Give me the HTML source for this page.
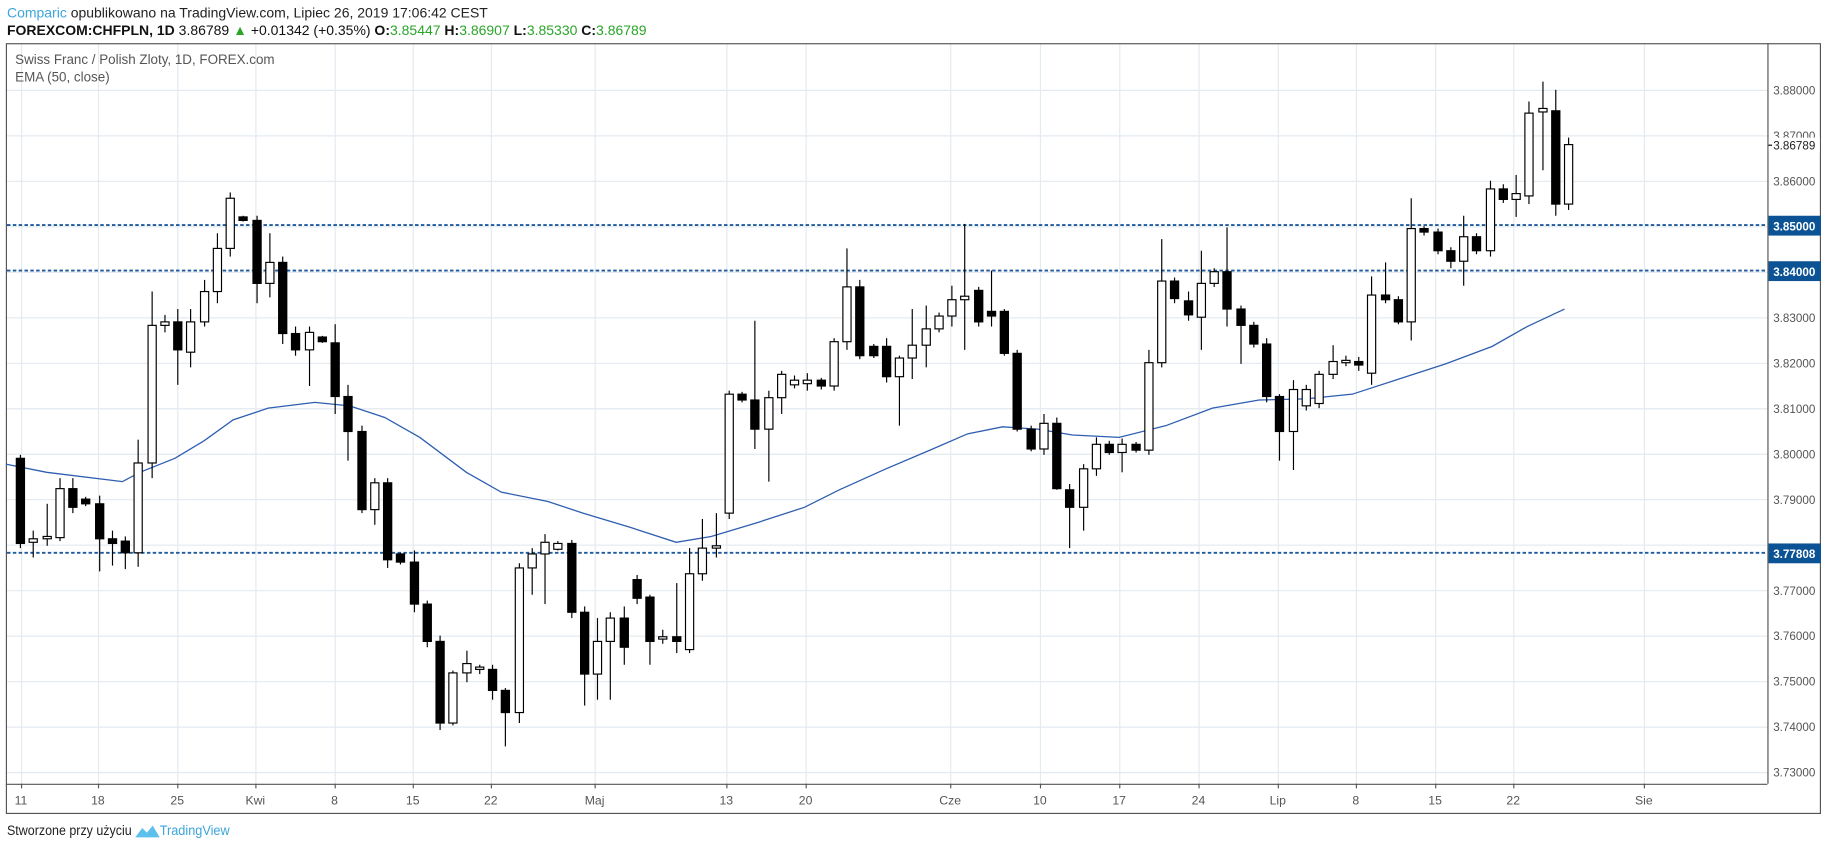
<!DOCTYPE html>
<html><head><meta charset="utf-8"><style>
html,body{margin:0;padding:0;background:#fff;}
svg{display:block;font-family:"Liberation Sans",sans-serif;}
</style></head><body>
<svg id="s" width="1828" height="849" viewBox="0 0 1568 728" preserveAspectRatio="none" xmlns="http://www.w3.org/2000/svg">
<rect width="1568" height="728" fill="#fff"/>
<g id="grid" stroke="#e3eaf1" stroke-width="1"></g>
<rect x="5.5" y="37.5" width="1556" height="660" fill="none" stroke="#555" stroke-width="1"/>
<line x1="1516.5" y1="37" x2="1516.5" y2="672" stroke="#555"/>
<line x1="5" y1="672.5" x2="1516" y2="672.5" stroke="#555"/>
<g id="hl"></g>
<polyline id="ema" fill="none" stroke="#2e5eb0" stroke-width="1.1"/>
<g id="c"></g>
<g font-size="10" fill="#555">
<text x="1521" y="81">3.88000</text>
<text x="1521" y="120">3.87000</text>
<text x="1521" y="159">3.86000</text>
<text x="1521" y="315">3.82000</text>
<text x="1521" y="276">3.83000</text>
<text x="1521" y="354">3.81000</text>
<text x="1521" y="393">3.80000</text>
<text x="1521" y="432">3.79000</text>
<text x="1521" y="510">3.77000</text>
<text x="1521" y="549">3.76000</text>
<text x="1521" y="588">3.75000</text>
<text x="1521" y="627">3.74000</text>
<text x="1521" y="666">3.73000</text>
</g>
<rect x="1517" y="118" width="44" height="13" fill="#fff"/>
<line x1="1517" y1="124.5" x2="1520" y2="124.5" stroke="#000"/>
<text x="1521" y="128" font-size="10" fill="#222">3.86789</text>
<rect x="1517" y="185" width="45" height="17" fill="#0b5394"/>
<text x="1521" y="197.5" font-size="10" fill="#fff" font-weight="bold">3.85000</text>
<rect x="1517" y="224" width="45" height="17" fill="#0b5394"/>
<text x="1521" y="236.5" font-size="10" fill="#fff" font-weight="bold">3.84000</text>
<rect x="1517" y="466" width="45" height="17" fill="#0b5394"/>
<text x="1521" y="478.5" font-size="10" fill="#fff" font-weight="bold">3.77808</text>
<g font-size="10.5" fill="#555" text-anchor="middle">
<text x="18" y="690">11</text><text x="84" y="690">18</text><text x="152" y="690">25</text>
<text x="219" y="690">Kwi</text><text x="287" y="690">8</text><text x="354" y="690">15</text>
<text x="421" y="690">22</text><text x="510" y="690">Maj</text><text x="623" y="690">13</text>
<text x="691" y="690">20</text><text x="815" y="690">Cze</text><text x="892" y="690">10</text>
<text x="960" y="690">17</text><text x="1028" y="690">24</text><text x="1096" y="690">Lip</text>
<text x="1163" y="690">8</text><text x="1231" y="690">15</text><text x="1298" y="690">22</text>
<text x="1410" y="690">Sie</text>
</g>
<text x="13" y="55" font-size="11.5" fill="#555">Swiss Franc / Polish Zloty, 1D, FOREX.com</text>
<text x="13" y="70" font-size="11.5" fill="#555">EMA (50, close)</text>
<text x="6" y="15" font-size="12"><tspan fill="#3ca5dc">Comparic</tspan><tspan fill="#222"> opublikowano na TradingView.com, Lipiec 26, 2019 17:06:42 CEST</tspan></text>
<text x="6" y="30" font-size="12" fill="#111"><tspan font-weight="bold">FOREXCOM:CHFPLN, 1D</tspan> 3.86789 <tspan fill="#2aa52a">▲</tspan> +0.01342 (+0.35%) <tspan font-weight="bold">O:</tspan><tspan fill="#2aa52a">3.85447</tspan> <tspan font-weight="bold">H:</tspan><tspan fill="#2aa52a">3.86907</tspan> <tspan font-weight="bold">L:</tspan><tspan fill="#2aa52a">3.85330</tspan> <tspan font-weight="bold">C:</tspan><tspan fill="#2aa52a">3.86789</tspan></text>
<text x="6" y="716" font-size="11.5" fill="#222" textLength="107" lengthAdjust="spacingAndGlyphs">Stworzone przy użyciu</text>
<path d="M116 718 l6 -8 l4 4 l5 -6 l6 10 z" fill="#5bc0eb"/>
<text x="137" y="716" font-size="11.5" fill="#3ca5dc" textLength="60" lengthAdjust="spacingAndGlyphs">TradingView</text>
</svg>
<script>
var ns="http://www.w3.org/2000/svg";
function el(p,t,a){var e=document.createElementNS(ns,t);for(var k in a)e.setAttribute(k,a[k]);p.appendChild(e);return e;}
var g=document.getElementById('grid');
[77,116,155,194,233,272,311,350,389,428,467,506,545,584,623,662].forEach(function(y){el(g,'line',{x1:6,x2:1516,y1:y+.5,y2:y+.5});});
[18,84,152,219,287,354,421,510,623,691,815,892,960,1028,1096,1163,1231,1298,1410].forEach(function(x){el(g,'line',{x1:x+.5,x2:x+.5,y1:38,y2:672});
el(document.getElementById('s'),'line',{x1:x+.5,x2:x+.5,y1:672,y2:676,stroke:'#555'});});
var hl=document.getElementById('hl');
[193,232,474].forEach(function(y){el(hl,'line',{x1:6,x2:1516,y1:y,y2:y,stroke:'#1f5a9a','stroke-width':1.6,'stroke-dasharray':'3,2'});});
var ema=[[5,398],[40,405],[105,413],[120,405],[150,393],[175,378],[200,360],[230,350],[270,345],[300,348],[330,358],[360,375],[400,405],[430,422],[470,430],[500,440],[540,452],[580,465],[610,460],[650,448],[690,435],[720,420],[760,402],[800,385],[830,372],[860,366],[890,368],[920,373],[960,375],[1000,365],[1040,350],[1080,343],[1120,342],[1160,338],[1200,325],[1240,312],[1280,297],[1310,280],[1342,265]];
document.getElementById('ema').setAttribute('points',ema.map(function(p){return p.join(',')}).join(' '));
var d=[[393,466,390,470],[465,462,455,478],[462,460,432,468],[461,419,410,464],[419,435,410,440],[428,432,426,434],[432,462,425,490],[462,466,455,485],[464,474,460,488],[474,397,377,486],
[397,279,250,410],[279,276,270,285],[276,300,265,330],[302,276,265,315],[276,250,240,280],[250,213,200,260],[213,170,165,220],[186,189,185,190],[189,243,185,260],[243,225,200,255],
[225,286,220,295],[286,300,280,305],[300,285,280,331],[289,293,288,294],[294,340,278,355],[340,370,330,395],[370,437,365,440],[437,414,410,450],[414,480,410,487],[475,482,474,484],
[482,518,472,525],[518,550,515,555],[550,620,545,626],[620,577,575,622],[577,569,558,585],[574,572,570,578],[574,592,570,600],[592,611,590,640],[611,487,483,620],[487,475,470,510],
[475,465,458,518],[471,466,464,472],[466,525,463,530],[525,578,520,605],[578,550,530,600],[550,530,525,600],[530,555,520,570],[497,513,493,518],[512,550,510,570],[548,546,540,552],
[546,550,500,560],[557,492,470,560],[492,470,445,498],[470,468,440,478],[440,338,335,445],[338,343,336,345],[343,368,275,385],[368,341,335,413],[341,321,318,355],[330,326,322,333],
[329,326,320,335],[326,331,324,334],[331,293,290,335],[293,246,213,300],[246,305,240,308],[297,305,295,307],[297,323,290,328],[323,307,305,365],[307,296,265,325],[296,282,262,315],
[282,271,268,285],[271,257,245,280],[257,254,192,300],[249,276,246,280],[267,271,232,280],[267,303,265,305],[303,368,300,370],[368,385,365,387],[385,363,355,390],[363,419,358,420],
[420,435,415,470],[435,402,398,455],[402,381,375,408],[381,388,378,390],[388,381,376,405],[381,386,379,388],[386,311,300,390],[311,241,205,315],[241,256,238,260],[258,270,250,275],
[272,243,215,300],[243,233,230,246],[233,265,195,280],[265,279,262,312],[279,295,276,298],[295,340,290,345],[340,370,338,395],[370,334,326,403],[348,334,330,352],[346,321,318,350],
[321,310,296,325],[311,309,305,314],[310,313,306,318],[320,253,237,330],[253,257,225,260],[257,276,254,278],[276,196,170,292],[196,199,194,202],[199,215,196,218],[215,224,212,230],
[224,203,185,245],[203,215,200,218],[215,162,155,220],[162,171,158,174],[171,166,150,186],[168,97,87,175],[96,93,70,146],[95,175,77,185],[175,124,118,180]];
var c=document.getElementById('c');
d.forEach(function(k,i){var x=Math.round(17+i*11.255)+.5;var o=k[0],cl=k[1],h=k[2],l=k[3];
el(c,'line',{x1:x,x2:x,y1:h,y2:l,stroke:'#000','stroke-width':1});
var t=Math.min(o,cl),b=Math.max(o,cl);if(b-t<2)b=t+2;
var bear=cl>o;
el(c,'rect',{x:x-3.5,y:t,width:7,height:b-t,fill:bear?'#000':'#fff',stroke:'#000','stroke-width':1});});
</script>
</body></html>
